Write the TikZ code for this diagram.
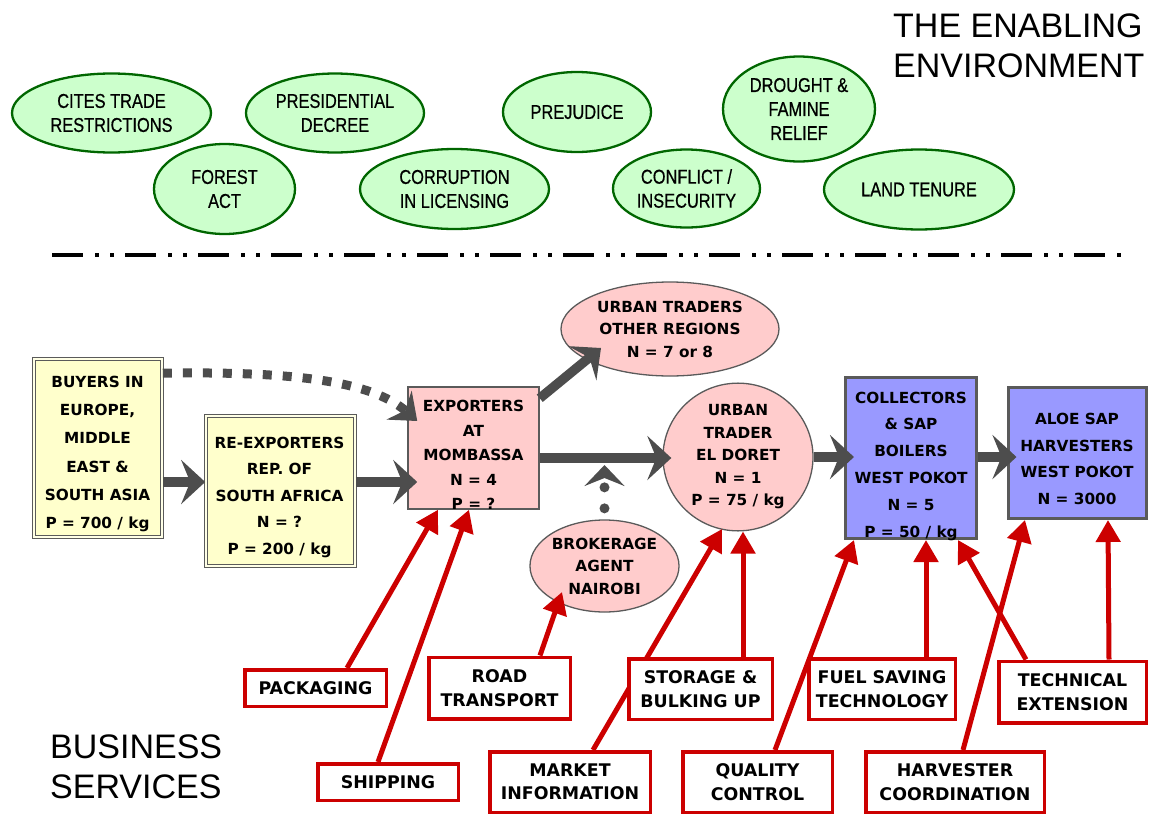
\documentclass[tikz,border=0pt]{standalone}
\usepackage{fontspec}
\usetikzlibrary{shapes.geometric,arrows.meta}
\newfontfamily\dvfont{DejaVu Sans}
\newfontfamily\narrowfont{Liberation Sans}[FakeStretch=0.82,FakeBold=0.6]
\newfontfamily\headfont{Liberation Sans}

\definecolor{envfill}{HTML}{CCFFCC}
\definecolor{envline}{HTML}{006600}
\definecolor{buyfill}{HTML}{FFFFCC}
\definecolor{pinkfill}{HTML}{FFCCCC}
\definecolor{bluefill}{HTML}{9999FF}
\definecolor{flowgray}{HTML}{4D4D4D}
\definecolor{svcred}{HTML}{CC0000}
\definecolor{edgegray}{HTML}{5A5A5A}

\pgfdeclarelayer{svclines}
\pgfdeclarelayer{svcboxes}
\pgfsetlayers{main,svclines,svcboxes}

\tikzset{
  env/.style={ellipse, draw=envline, line width=2.3pt, fill=envfill, inner sep=0pt,
    align=center, font=\narrowfont\fontsize{20}{24}\selectfont},
  stage/.style={draw=edgegray, inner sep=0pt},
  buyerbox/.style={stage, fill=buyfill, line width=1.6pt, double=buyfill!50!white, double distance=1.5pt},
  stagetxt/.style={align=center, inner sep=0pt, font=\dvfont\bfseries\fontsize{15.3}{#1}\selectfont},
  bubble/.style={ellipse, draw=edgegray, line width=1.3pt, fill=pinkfill, inner sep=0pt,
    align=center, font=\dvfont\bfseries\fontsize{15.3}{22.5}\selectfont},
  svc/.style={draw=svcred, line width=3.5pt, fill=white, inner sep=0pt, align=center,
    font=\dvfont\bfseries\fontsize{17.4}{23.5}\selectfont},
  flow/.style={draw=flowgray, line width=9.5pt, -{Stealth[length=24pt,width=44pt,inset=9pt]}},
  svcarrow/.style={draw=svcred, line width=5pt, -{Triangle[length=22pt,width=24pt]}},
  heading/.style={align=left, anchor=north west, inner sep=0pt,
    font=\headfont\fontsize{34}{40}\selectfont}
}

\begin{document}
\begin{tikzpicture}[x=1pt,y=-1pt]
\useasboundingbox (0,0) rectangle (1149,814);

% ---- enabling environment ----
\node[heading] (title-env) at (893,14) {THE ENABLING\\ENVIRONMENT};

\node[env, minimum width=199pt, minimum height=79pt] (cites) at (111.5,113) {CITES TRADE\\RESTRICTIONS};
\node[env, minimum width=141pt, minimum height=90pt] (forest) at (224.5,189) {FOREST\\ACT};
\node[env, minimum width=178pt, minimum height=79pt] (decree) at (335,113) {PRESIDENTIAL\\DECREE};
\node[env, minimum width=189pt, minimum height=80pt] (corrupt) at (454.5,189) {CORRUPTION\\IN LICENSING};
\node[env, minimum width=148pt, minimum height=80pt] (prejudice) at (577,112) {PREJUDICE};
\node[env, minimum width=147pt, minimum height=78pt] (conflict) at (686.5,188.5) {CONFLICT /\\INSECURITY};
\node[env, minimum width=152pt, minimum height=105pt] (drought) at (799,109) {DROUGHT \&\\FAMINE\\RELIEF};
\node[env, minimum width=190pt, minimum height=80pt] (tenure) at (919,189.5) {LAND TENURE};

% ---- separator ----
\coordinate (sepL) at (52,255);
\coordinate (sepR) at (1128,255);
\draw[black, line width=4pt, dash pattern=on 31pt off 12pt on 4pt off 11pt on 4pt off 11pt] (sepL) -- (sepR);

% ---- market chain ----
\node[buyerbox, minimum width=128pt, minimum height=178pt] (buy) at (98,448) {};
\node[stagetxt=28.2] (buy-t) at (97.5,454) {BUYERS IN\\EUROPE,\\MIDDLE\\EAST \&\\SOUTH ASIA\\P = 700 / kg};

\node[buyerbox, minimum width=149pt, minimum height=150pt] (rex) at (280.5,491) {};
\node[stagetxt=26.5] (rex-t) at (279.5,497) {RE-EXPORTERS\\REP. OF\\SOUTH AFRICA\\N = ?\\P = 200 / kg};

\node[stage, fill=pinkfill, line width=1.5pt, minimum width=131pt, minimum height=122pt] (exp) at (473.5,448) {};
\node[stagetxt=24.5] (exp-t) at (473.5,455) {EXPORTERS\\AT\\MOMBASSA\\N = 4\\P = ?};

\node[bubble, minimum width=218pt, minimum height=94pt] (utr) at (670,329) {URBAN TRADERS\\OTHER REGIONS\\N = 7 or 8};
\node[bubble, minimum width=150pt, minimum height=142pt] (eld) at (738,457) {URBAN\\TRADER\\EL DORET\\N = 1\\P = 75 / kg};
\node[bubble, minimum width=149pt, minimum height=92pt] (brok) at (604.5,566) {BROKERAGE\\AGENT\\NAIROBI};

\node[stage, fill=bluefill, line width=3pt, minimum width=131pt, minimum height=161pt] (col) at (911,458) {};
\node[stagetxt=26.8] (col-t) at (911,466) {COLLECTORS\\\& SAP\\BOILERS\\WEST POKOT\\N = 5\\P = 50 / kg};

\node[stage, fill=bluefill, line width=3pt, minimum width=138pt, minimum height=131pt] (alo) at (1077,453) {};
\node[stagetxt=26.7] (alo-t) at (1077,459) {ALOE SAP\\HARVESTERS\\WEST POKOT\\N = 3000};

% ---- product flows ----
\draw[flow] ([yshift=-34pt]buy.east) -- ([yshift=9pt]rex.west);
\draw[flow] ([yshift=9pt]rex.east) -- ([xshift=10pt,yshift=-34pt]exp.west);
\draw[flow] ([yshift=-10pt]exp.east) -- ([xshift=9pt,yshift=-1pt]eld.west);
\draw[flow] (eld.east) -- ([xshift=10pt]col.west |- eld.east);
\draw[flow] (col.east |- eld.east) -- ([xshift=10pt]alo.west |- eld.east);
\draw[flow] ([yshift=-12pt]exp.north east) -- ([xshift=-69pt,yshift=-19pt]utr.center);
\draw[flowgray, line width=9pt, dash pattern=on 9pt off 11pt,
      -{Stealth[length=24pt,width=38pt,inset=8pt]}]
  ([yshift=-15pt]buy.north east) .. controls +(125,-2) and +(-47,-41) .. ([xshift=10pt,yshift=27pt]exp.west);
\coordinate (brk-tip) at (604.5,465);
\draw[flowgray, line width=10pt, line cap=round, dash pattern=on 0pt off 21pt, dash phase=10pt,
      -{Stealth[length=21pt,width=40pt,inset=8pt]}] (brok.north) -- (brk-tip);

% ---- business services ----
\node[heading] (title-svc) at (50,735) {BUSINESS\\SERVICES};

\begin{pgfonlayer}{svcboxes}
\node[svc, minimum width=141.5pt, minimum height=36.5pt] (pack) at (315.5,688) {PACKAGING};
\node[svc, minimum width=140.5pt, minimum height=36.5pt] (ship) at (388,782) {SHIPPING};
\node[svc, minimum width=141.5pt, minimum height=61.5pt] (road) at (499.5,688) {ROAD\\TRANSPORT};
\node[svc, minimum width=160.5pt, minimum height=60.5pt] (mkt) at (570,782) {MARKET\\INFORMATION};
\node[svc, minimum width=143.5pt, minimum height=60.5pt] (stor) at (700.5,689) {STORAGE \&\\BULKING UP};
\node[svc, minimum width=149.5pt, minimum height=60.5pt] (qual) at (757.5,782) {QUALITY\\CONTROL};
\node[svc, minimum width=146.5pt, minimum height=60.5pt] (fuel) at (882,689) {FUEL SAVING\\TECHNOLOGY};
\node[svc, minimum width=178.5pt, minimum height=60.5pt] (harv) at (955,782) {HARVESTER\\COORDINATION};
\node[svc, minimum width=147.5pt, minimum height=61.5pt] (tech) at (1072.5,692) {TECHNICAL\\EXTENSION};
\end{pgfonlayer}

\begin{pgfonlayer}{svclines}
\draw[svcarrow] ([xshift=31.5pt]pack.north) -- ([xshift=-35.5pt]exp.south);
\draw[svcarrow] ([xshift=-10pt]ship.north) -- ([xshift=-4.5pt]exp.south);
\draw[svcarrow] ([xshift=40.5pt]road.north) -- ([xshift=-42.5pt,yshift=-26pt]brok.center);
\draw[svcarrow] ([xshift=23pt]mkt.north) -- ([xshift=-16pt,yshift=-72pt]eld.center);
\draw[svcarrow] ([xshift=42.5pt]stor.north) -- ([xshift=5pt]eld.south);
\draw[svcarrow] ([xshift=17.5pt]qual.north) -- ([xshift=-57pt]col.south);
\draw[svcarrow] ([xshift=44pt]fuel.north) -- ([xshift=15pt]col.south);
\draw[svcarrow] ([xshift=-46.5pt]tech.north) -- ([xshift=47pt]col.south);
\draw[svcarrow] ([xshift=8pt]harv.north) -- ([xshift=-52pt]alo.south);
\draw[svcarrow] ([xshift=36.5pt]tech.north) -- ([xshift=31pt]alo.south);
\end{pgfonlayer}
\end{tikzpicture}
\end{document}
